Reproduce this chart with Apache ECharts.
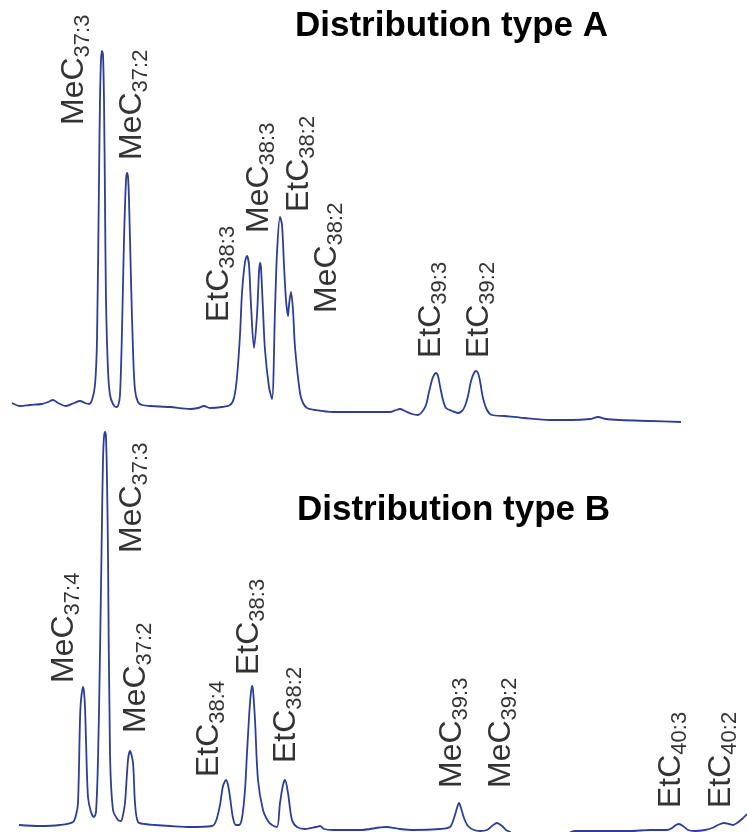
<!DOCTYPE html>
<html>
<head>
<meta charset="utf-8">
<script src="https://cdn.jsdelivr.net/npm/echarts@6/dist/echarts.min.js"></script>
<style>
html,body{margin:0;padding:0;background:#fff;}
#chart{width:747px;height:832px;}
</style>
</head>
<body>
<div id="chart"></div>
<script>
// Chromatogram traces: [retention index, signal]
const traceA = [
 [12,27],[20,24],[30,25],[42,26],[48,28],[53,30],[58,27],[66,24],[74,27],[80,29],[85,27],[89,26],
 [92,30],[95,45],[97,90],[99,250],[100,330],[101,370],[102,379],[103,375],[104,330],[105,230],[106,130],
 [108,60],[110,35],[113,26],[116,23],[118,24],[120,35],[122,100],[124,190],[126,250],[127,257],[128,253],
 [129,230],[131,150],[133,80],[135,40],[138,28],[142,25],[150,24],[170,23],[190,21],[198,22],[204,24],
 [210,22],[222,23],[230,25],[234,32],[237,53],[240,95],[242,137],[245,168],[247,174],[249,165],[251,125],
 [254,82],[257,115],[259,158],[260,167],[261,162],[263,120],[265,80],[269,43],[272,31],[275,120],[277,177],
 [280,213],[282,205],[284,165],[286,130],[288,114],[289,125],[291,138],[293,120],[295,83],[300,37],[303,27],
 [307,22],[315,20],[333,18],[360,18],[390,18],[396,20],[400,21],[405,19],[412,16],[418,15],[422,18],
 [426,25],[429,38],[432,50],[434,55],[436,57],[438,54],[440,44],[443,30],[446,22],[452,19],[458,17],
 [462,19],[465,24],[468,34],[471,49],[474,57],[476,59],[478,57],[480,49],[483,32],[487,20],[492,15],
 [505,14],[524,12],[550,10],[571,10],[590,11],[598,13],[606,11],[620,10],[650,9],[681,8]
];
const traceB = [
 [19,7],[40,6],[60,7],[73,10],[76,17],[78,29],[80,112],[81,132],[83,145],[84,140],[85,125],[86,92],
 [88,35],[91,20],[94,15],[96,20],[98,72],[100,179],[102,312],[103,372],[104,395],[105,400],[106,395],
 [107,352],[108,279],[110,79],[113,22],[118,12],[121,11],[123,17],[125,29],[128,72],[130,81],[133,69],
 [135,29],[138,10],[145,8],[155,7],[170,6],[190,5],[212,6],[216,11],[220,27],[223,46],[226,52],[228,47],
 [230,35],[233,14],[236,7],[239,7],[242,14],[245,42],[247,79],[250,129],[252,146],[253,142],[255,112],
 [258,52],[263,22],[268,11],[272,7],[277,5],[280,29],[283,47],[285,52],[288,39],[292,12],[297,5],
 [305,3],[316,5],[320,6],[324,3],[333,2],[360,2],[386,5],[400,3],[414,2],[440,3],[450,5],[454,14],
 [457,24],[459,29],[461,24],[464,14],[468,6],[474,2],[480,1],[487,2],[492,6],[497,9],[502,6],[506,2],
 [510,0],[514,-4],[525,-8],[545,-8],[562,-6],[569,-1],[575,1],[600,1],[630,1],[650,2],[667,2],[672,4],
 [676,7],[679,8],[683,6],[688,2],[695,1],[705,2],[712,4],[718,7],[724,9],[729,8],[733,7],[737,9],
 [742,13],[747,18]
];
const titles = ['Distribution type A', 'Distribution type B'];
const labelNamesA = [['MeC','37:3'],['MeC','37:2'],['EtC','38:3'],['MeC','38:3'],['EtC','38:2'],['MeC','38:2'],['EtC','39:3'],['EtC','39:2']];
const labelNamesB = [['MeC','37:4'],['MeC','37:3'],['MeC','37:2'],['EtC','38:4'],['EtC','38:3'],['EtC','38:2'],['MeC','39:3'],['MeC','39:2'],['EtC','40:3'],['EtC','40:2']];

// layout: label anchors (retention index, signal level of the label's start)
const labelAnchorA = [[74,305],[132,270],[219,108],[259,197],[299,218],[327,117],[431,72],[479,72]];
const labelAnchorB = [[64,149],[132,279],[136,99],[209,55],[249,157],[286,69],[452,44],[501,44],[671,24],[721,24]];

const FONT = '"Liberation Sans", Arial, sans-serif';
const LINE_COLOR = '#2d3e94';

function labelSeries(names, anchors, idx) {
  return {
    type: 'scatter', xAxisIndex: idx, yAxisIndex: idx, silent: true,
    symbolSize: 1, itemStyle: { color: 'rgba(0,0,0,0)' },
    data: anchors.map((a, i) => ({ value: a, parts: names[i] })),
    label: {
      show: true, position: 'inside', rotate: 90, align: 'left', verticalAlign: 'middle',
      formatter: p => '{m|' + p.data.parts[0] + '}{s|' + p.data.parts[1] + '}',
      rich: {
        m: { fontSize: 32, fontFamily: FONT, color: '#000', lineHeight: 40 },
        s: { fontSize: 22, fontFamily: FONT, color: '#000', lineHeight: 22, verticalAlign: 'bottom' }
      }
    },
    z: 5
  };
}

const chart = echarts.init(document.getElementById('chart'), null, { renderer: 'canvas' });
chart.setOption({
  animation: false,
  backgroundColor: '#fff',
  title: [
    { text: titles[0], left: 290, top: 4, textStyle: { fontSize: 35, fontWeight: 'bold', fontFamily: FONT, color: '#000' } },
    { text: titles[1], left: 292, top: 488, textStyle: { fontSize: 35, fontWeight: 'bold', fontFamily: FONT, color: '#000' } }
  ],
  grid: [
    { left: 0, right: 0, top: 0, height: 430 },
    { left: 0, right: 0, top: 420, height: 412 }
  ],
  xAxis: [
    { type: 'value', gridIndex: 0, min: 0, max: 747, show: false },
    { type: 'value', gridIndex: 1, min: 0, max: 747, show: false }
  ],
  yAxis: [
    { type: 'value', gridIndex: 0, min: 0, max: 430, show: false },
    { type: 'value', gridIndex: 1, min: 0, max: 412, show: false }
  ],
  series: [
    { type: 'line', xAxisIndex: 0, yAxisIndex: 0, data: traceA, showSymbol: false, smooth: 0.3,
      lineStyle: { color: LINE_COLOR, width: 1.8 }, silent: true },
    { type: 'line', xAxisIndex: 1, yAxisIndex: 1, data: traceB, showSymbol: false, smooth: 0.3,
      lineStyle: { color: LINE_COLOR, width: 1.8 }, silent: true, clip: true },
    labelSeries(labelNamesA, labelAnchorA, 0),
    labelSeries(labelNamesB, labelAnchorB, 1)
  ]
});
</script>
</body>
</html>
